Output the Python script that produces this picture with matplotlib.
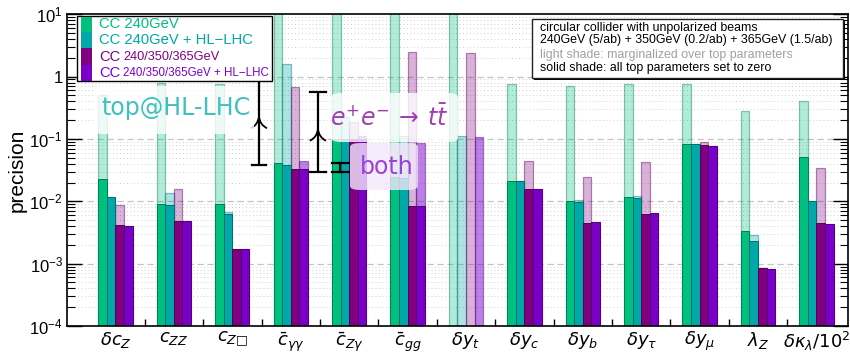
import numpy as np
import matplotlib
matplotlib.use("Agg")
import matplotlib.pyplot as plt
import matplotlib.transforms as mtransforms
from matplotlib.patches import FancyBboxPatch, Rectangle, PathPatch
from matplotlib.path import Path
from matplotlib.colors import to_rgba
from matplotlib.ticker import FixedLocator, FixedFormatter, NullFormatter

plt.rcParams['font.family'] = ['Liberation Sans', 'DejaVu Sans']

# ---------------------------------------------------------------- data
parameters = [r'$\delta c_Z$', r'$c_{ZZ}$', r'$c_{Z□}$',
              r'$\bar{c}_{\gamma\gamma}$', r'$\bar{c}_{Z\gamma}$', r'$\bar{c}_{gg}$',
              r'$\delta y_t$', r'$\delta y_c$', r'$\delta y_b$', r'$\delta y_\tau$',
              r'$\delta y_\mu$', r'$\lambda_Z$', r'$\delta\kappa_\lambda/10^2$']

nan = np.nan
# light shade: marginalized over top parameters
cc240_marg = [0.51, 0.79, 0.75, 20, 20, 20, 20, 0.755, 0.718, 0.755, 0.755, 0.285, 0.412]
cc240hl_marg = [0.0119, 0.0135, 0.0067, 1.58, 0.229, 0.11, 0.113, 0.0211, 0.0105, 0.0122, 0.083, 0.0029, 0.0101]
cc365_marg = [0.0088, 0.0157, 0.00175, 0.69, 0.186, 2.52, 2.43, 0.045, 0.0249, 0.0425, 0.089, 0.00084, 0.0348]
cc365hl_marg = [0.00405, 0.00486, 0.00172, 0.0446, 0.113, 0.0857, 0.107, 0.0157, 0.0046, 0.0064, 0.0775, 0.00082, 0.00431]
# solid shade: all top parameters set to zero
cc240_fixed = [0.0230, 0.0091, 0.0091, 0.0419, 0.100, 0.0249, nan, 0.0213, 0.0103, 0.0119, 0.0843, 0.00337, 0.051]
cc240hl_fixed = [0.0119, 0.0086, 0.00624, 0.0384, 0.100, 0.0240, nan, 0.0211, 0.0097, 0.0112, 0.083, 0.00233, 0.0101]
cc365_fixed = [0.0042, 0.00486, 0.00175, 0.0328, 0.100, 0.0085, nan, 0.0157, 0.00448, 0.0063, 0.0796, 0.00084, 0.00448]
cc365hl_fixed = [0.00405, 0.00486, 0.00172, 0.0328, 0.100, 0.0083, nan, 0.0157, 0.0046, 0.0064, 0.0775, 0.00082, 0.00431]

series_marg = [cc240_marg, cc240hl_marg, cc365_marg, cc365hl_marg]
series_fixed = [cc240_fixed, cc240hl_fixed, cc365_fixed, cc365hl_fixed]
colors = ['#00c080', '#00a8a8', '#800080', '#7a00c8']
light_alpha = [0.30, 0.32, 0.30, 0.50]

# brackets: (x position, low, high, cap half-width, chevron apex)
brackets_main = [(2.456, 0.0385, 1.33, 0.115, 0.23), (3.466, 0.029, 0.575, 0.143, 0.145)]
bracket_small = (3.851, 0.029, 0.041, 0.14)

W, H = 850, 353
fig = plt.figure(figsize=(W / 100, H / 100), dpi=100)
L, R, T, B = 67, 848, 14.3, 326
ax = fig.add_axes([L / W, 1 - B / H, (R - L) / W, (B - T) / H])


def fx(px):
    return px / W


def fy(py):
    return 1 - py / H


ax.set_yscale('log')
ax.set_ylim(1e-4, 10)
ax.set_xlim(-0.83, 12.54)

# grid
for e in range(-3, 1):
    ax.axhline(10.0 ** e, color='#c4c4c4', lw=0.9, dashes=(5, 3), zorder=0)
for e in range(-4, 1):
    for m in range(2, 10):
        ax.axhline(m * 10.0 ** e, color='#cfcfcf', lw=0.7, dashes=(1, 2.6), zorder=0)

x = np.arange(len(parameters))
bw = 0.147
offs = (np.arange(4) - 1.5) * bw
bottom = 1e-6


def darker(c, f=0.7):
    r, g, b, _ = to_rgba(c)
    return (r * f, g * f, b * f, 1)


for k in range(4):
    vals = np.array(series_marg[k], dtype=float)
    r, g, b, _ = to_rgba(colors[k])
    ax.bar(x + offs[k], vals - bottom, bw, bottom=bottom,
           color=(r, g, b, light_alpha[k]),
           edgecolor=(r * 0.7, g * 0.7, b * 0.7, 0.45), lw=0.9, zorder=2)
for k in range(4):
    vals = np.array(series_fixed[k], dtype=float)
    ok = ~np.isnan(vals)
    ax.bar((x + offs[k])[ok], vals[ok] - bottom, bw, bottom=bottom,
           color=colors[k], edgecolor=darker(colors[k], 0.65), lw=0.7, zorder=3)

# brackets
for bx, lo, hi, half, apex in brackets_main:
    ax.plot([bx, bx], [lo, hi], color='k', lw=1.6, zorder=4, solid_capstyle='butt')
    ax.plot([bx - half, bx + half], [hi, hi], color='k', lw=1.6, zorder=4)
    ax.plot([bx - half, bx + half], [lo, lo], color='k', lw=1.6, zorder=4)
    tr = mtransforms.Affine2D().scale(fig.dpi / 72) + mtransforms.ScaledTranslation(bx, apex, ax.transData)
    verts = [(-5.8, -8.5), (-0.6, -6.0), (0, 0), (0.6, -6.0), (5.8, -8.5)]
    codes = [Path.MOVETO, Path.CURVE3, Path.CURVE3, Path.CURVE3, Path.CURVE3]
    ax.add_patch(PathPatch(Path(verts, codes), transform=tr, fill=False, lw=1.3,
                           edgecolor='k', zorder=4, clip_on=False))
sx, slo, shi, shalf = bracket_small
ax.plot([sx, sx], [slo, shi], color='k', lw=1.6, zorder=4)
ax.plot([sx - shalf, sx + shalf], [shi, shi], color='k', lw=1.6, zorder=4)
ax.plot([sx - shalf, sx + shalf], [slo, slo], color='k', lw=1.6, zorder=4)


def label_box(x0, y0, x1, y1, fc, alpha):
    p = FancyBboxPatch((fx(x0), fy(y1)), (x1 - x0) / W, (y1 - y0) / H,
                       boxstyle='round,pad=0,rounding_size=0.012',
                       transform=fig.transFigure, facecolor=fc, alpha=alpha,
                       edgecolor='none', zorder=5)
    fig.add_artist(p)


label_box(93, 86, 254, 134, 'white', 0.8)
fig.text(fx(101), fy(108), 'top@HL-LHC', color='#40c0c0', fontsize=17,
         family='DejaVu Sans', va='center', ha='left', zorder=6)
label_box(331, 93, 458, 142, 'white', 0.8)
fig.text(fx(330), fy(118), r'$e^{+}e^{-}\,\rightarrow\,t\bar{t}$', color='#a040b0', fontsize=17,
         math_fontfamily='dejavusans', va='center', ha='left', zorder=6)
label_box(350, 143, 418, 190, '#f4e8fb', 0.8)
fig.text(fx(360), fy(167), 'both', color='#9a40d8', fontsize=17,
         family='DejaVu Sans', va='center', ha='left', zorder=6)

# axes styling
for s in ax.spines.values():
    s.set_linewidth(1.2)
    s.set_zorder(8)
ax.yaxis.set_ticks_position('both')
ax.tick_params(axis='y', which='major', direction='in', length=11, width=1.0, labelsize=12, pad=3)
ax.tick_params(axis='y', which='minor', direction='in', length=5.5, width=0.8)
ax.yaxis.set_major_locator(FixedLocator([1e-4, 1e-3, 1e-2, 1e-1, 1, 10]))
ax.yaxis.set_major_formatter(FixedFormatter([r'$\mathregular{10^{-4}}$', r'$\mathregular{10^{-3}}$',
                                             r'$\mathregular{10^{-2}}$', r'$\mathregular{10^{-1}}$',
                                             '1', r'$\mathregular{10^{1}}$']))
ax.yaxis.set_minor_locator(FixedLocator([m * 10.0 ** e for e in range(-4, 1) for m in range(2, 10)]))
ax.yaxis.set_minor_formatter(NullFormatter())

ax.xaxis.set_ticks_position('bottom')
ax.xaxis.set_major_locator(FixedLocator(x[:-1] + 0.5))
ax.xaxis.set_major_formatter(NullFormatter())
ax.xaxis.set_minor_locator(FixedLocator(x))
ax.xaxis.set_minor_formatter(FixedFormatter(parameters))
ax.tick_params(axis='x', which='major', direction='in', length=5, width=1.0)
ax.tick_params(axis='x', which='minor', length=0, labelsize=13, pad=3)
for t in ax.xaxis.get_minorticklabels():
    t.set_math_fontfamily('dejavusans')

ax.set_ylabel('precision', fontsize=15, labelpad=2)

# legend
fig.add_artist(Rectangle((fx(77), fy(81)), (272 - 77) / W, (81 - 15.7) / H,
                         transform=fig.transFigure, facecolor='white',
                         edgecolor='k', lw=1.0, zorder=9))
rows = [(16.7, 31.7), (31.7, 48.3), (48.3, 65), (65, 80.7)]
for k, (ya, yb) in enumerate(rows):
    fig.add_artist(Rectangle((fx(81), fy(yb)), 11 / W, (yb - ya) / H,
                             transform=fig.transFigure, facecolor=colors[k],
                             edgecolor='none', zorder=10))
ty = [24.5, 40.5, 57, 73]
fig.text(fx(99), fy(ty[0]), 'CC 240GeV', color=colors[0], fontsize=10.6, va='center', zorder=10)
fig.text(fx(99), fy(ty[1]), 'CC 240GeV + HL\u2212LHC', color=colors[1], fontsize=10.6, va='center', zorder=10)
fig.text(fx(99), fy(ty[2]), 'CC', color=colors[2], fontsize=10.6, va='center', zorder=10)
fig.text(fx(123), fy(ty[2] + 0.5), '240/350/365GeV', color=colors[2], fontsize=9.2, va='center', zorder=10)
fig.text(fx(99), fy(ty[3]), 'CC', color=colors[3], fontsize=10.6, va='center', zorder=10)
fig.text(fx(123), fy(ty[3] + 0.5), '240/350/365GeV + HL\u2212LHC', color=colors[3], fontsize=8.3,
         va='center', zorder=10)

# description box
fig.add_artist(Rectangle((fx(534), fy(80)), (843 - 532) / W, (78 - 19) / H,
                         transform=fig.transFigure, facecolor='k', edgecolor='none', zorder=9))
fig.add_artist(Rectangle((fx(532), fy(78)), (843 - 532) / W, (78 - 19) / H,
                         transform=fig.transFigure, facecolor='white', edgecolor='#222222',
                         lw=1.0, zorder=9))
info = [('circular collider with unpolarized beams', 'k', 28.5),
        ('240GeV (5/ab) + 350GeV (0.2/ab) + 365GeV (1.5/ab)', 'k', 39.5),
        ('light shade: marginalized over top parameters', '#a0a0a0', 55),
        ('solid shade: all top parameters set to zero', 'k', 67.5)]
for txt, c, yy in info:
    fig.text(fx(540.5), fy(yy), txt, color=c, fontsize=8.9, va='center', ha='left', zorder=10)

fig.savefig('out.png', dpi=100)
